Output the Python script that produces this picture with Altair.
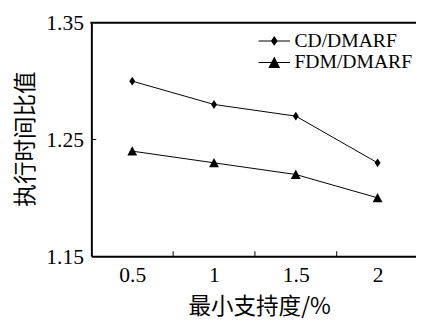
import altair as alt
import pandas as pd

# ---- data ----
supports = [0.5, 1.0, 1.5, 2.0]
cd_values = [1.30, 1.28, 1.27, 1.23]
fdm_values = [1.24, 1.23, 1.22, 1.20]
series_names = ["CD/DMARF", "FDM/DMARF"]
x_label_values = [0.5, 1, 1.5, 2]
x_inner_ticks = [0.75, 1.25, 1.75]
y_tick_values = [1.15, 1.25, 1.35]
y_inner_ticks = [1.25]

df = pd.DataFrame({
    "support": supports * 2,
    "ratio": cd_values + fdm_values,
    "series": [series_names[0]] * len(supports) + [series_names[1]] * len(supports),
})
xt_df = pd.DataFrame({"support": x_inner_ticks})
yt_df = pd.DataFrame({"ratio": y_inner_ticks})
top_df = pd.DataFrame({"ratio": [y_tick_values[-1]]})

W, H = 331, 238
SERIF = "Liberation Serif"
CJK = "Noto Sans CJK SC"

xscale = alt.Scale(domain=[0.25, 2.235], nice=False, zero=False)
yscale = alt.Scale(domain=[1.15, 1.35], nice=False, zero=False)

x_axis = alt.Axis(
    values=x_label_values, format="~g", tickSize=0, grid=False,
    labelFont=SERIF, labelFontSize=22, labelColor="black", labelPadding=9,
    labelFlush=False, domainColor="black", domainWidth=2,
    title="最小支持度/%", titleFont=CJK, titleFontSize=23, titleFontWeight="normal",
    titleColor="black", titleX=171, titleY=51, titleBaseline="middle", titleAlign="center",
)
y_axis = alt.Axis(
    values=y_tick_values, format=".2f", tickSize=0, grid=False,
    labelFont=SERIF, labelFontSize=22, labelColor="black", labelPadding=8,
    labelFlush=False, domainColor="black", domainWidth=2,
    title="执行时间比值", titleFont=CJK, titleFontSize=23, titleFontWeight="normal",
    titleColor="black", titleX=-67, titleY=118, titleBaseline="middle", titleAlign="center",
    titleAngle=270,
)

diamond_pt = "M0,-0.9L0.6,0L0,0.9L-0.6,0Z"
tri_pt = "M0,-1L1,0.9L-1,0.9Z"
leg_diamond = ("M-1.6,-0.05L1.6,-0.05L1.6,0.05L-1.6,0.05Z"
               "M0,-0.5L0.35,0L0,0.5L-0.35,0Z")
leg_tri = ("M-1.6,-0.05L1.6,-0.05L1.6,0.05L-1.6,0.05Z"
           "M0,-0.6L0.6,0.55L-0.6,0.55Z")

X = alt.X("support:Q", scale=xscale, axis=x_axis)
Y = alt.Y("ratio:Q", scale=yscale, axis=y_axis)

lines = alt.Chart(df).mark_line(color="black", strokeWidth=1).encode(
    x=X, y=Y, detail="series:N",
)

points = alt.Chart(df).mark_point(filled=True, color="black", opacity=1, size=100).encode(
    x=X, y=Y,
    shape=alt.Shape("series:N", scale=alt.Scale(domain=series_names, range=[diamond_pt, tri_pt]), legend=None),
)

legend_layer = alt.Chart(df).mark_point(
    filled=True, fill="black", stroke="black", strokeWidth=1, opacity=1, size=400
).encode(
    x=X, y=Y,
    shape=alt.Shape(
        "series:N",
        scale=alt.Scale(domain=series_names, range=[leg_diamond, leg_tri]),
        legend=alt.Legend(
            title=None, orient="none", legendX=176, legendY=8, padding=0,
            labelFont=SERIF, labelFontSize=20, labelColor="black", labelOffset=10,
            symbolSize=400, symbolStrokeColor="black", symbolFillColor="black",
            symbolStrokeWidth=0.5, symbolOpacity=1, rowPadding=1,
        ),
    ),
).transform_filter("false")

xticks = alt.Chart(xt_df).mark_rule(color="black", strokeWidth=1).encode(
    x=X,
    y=alt.value(H),
    y2=alt.value(H - 5),
)
yticks = alt.Chart(yt_df).mark_rule(color="black", strokeWidth=1).encode(
    y=Y,
    x=alt.value(0),
    x2=alt.value(5),
)
top_line = alt.Chart(top_df).mark_rule(color="black", strokeWidth=2).encode(
    y=Y,
    x=alt.value(-1),
    x2=alt.value(W),
)

chart = alt.layer(lines, points, legend_layer, xticks, yticks, top_line).resolve_scale(
    shape="independent"
).properties(
    width=W, height=H,
    padding={"left": 85, "top": 12, "right": 0, "bottom": 62},
    autosize=alt.AutoSizeParams(type="none"),
    background="white",
).configure_view(strokeWidth=0)

chart.save("out.html", embed_options={"renderer": "svg", "actions": False})
